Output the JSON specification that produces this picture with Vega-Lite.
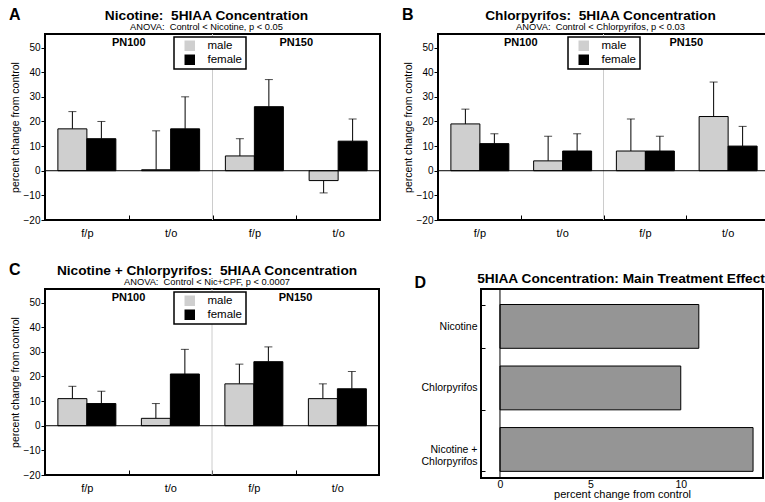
{
  "$schema": "https://vega.github.io/schema/vega-lite/v6.json",
  "padding": {"left": 9, "top": 6, "right": 0, "bottom": 0},
  "datasets": {
    "nic": [
      {"grp": "PN100 f/p", "sex": "male", "value": 17, "err": 24},
      {"grp": "PN100 f/p", "sex": "female", "value": 13, "err": 20},
      {"grp": "PN100 t/o", "sex": "male", "value": 0.4, "err": 16.2},
      {"grp": "PN100 t/o", "sex": "female", "value": 17, "err": 30},
      {"grp": "PN150 f/p", "sex": "male", "value": 6, "err": 13},
      {"grp": "PN150 f/p", "sex": "female", "value": 26, "err": 37},
      {"grp": "PN150 t/o", "sex": "male", "value": -4, "err": -9},
      {"grp": "PN150 t/o", "sex": "female", "value": 12, "err": 21}
    ],
    "cpf": [
      {"grp": "PN100 f/p", "sex": "male", "value": 19, "err": 25},
      {"grp": "PN100 f/p", "sex": "female", "value": 11, "err": 15},
      {"grp": "PN100 t/o", "sex": "male", "value": 4, "err": 14},
      {"grp": "PN100 t/o", "sex": "female", "value": 8, "err": 15},
      {"grp": "PN150 f/p", "sex": "male", "value": 8, "err": 21},
      {"grp": "PN150 f/p", "sex": "female", "value": 8, "err": 14},
      {"grp": "PN150 t/o", "sex": "male", "value": 22, "err": 36},
      {"grp": "PN150 t/o", "sex": "female", "value": 10, "err": 18}
    ],
    "both": [
      {"grp": "PN100 f/p", "sex": "male", "value": 11, "err": 16},
      {"grp": "PN100 f/p", "sex": "female", "value": 9, "err": 14},
      {"grp": "PN100 t/o", "sex": "male", "value": 3, "err": 9},
      {"grp": "PN100 t/o", "sex": "female", "value": 21, "err": 31},
      {"grp": "PN150 f/p", "sex": "male", "value": 17, "err": 25},
      {"grp": "PN150 f/p", "sex": "female", "value": 26, "err": 32},
      {"grp": "PN150 t/o", "sex": "male", "value": 11, "err": 17},
      {"grp": "PN150 t/o", "sex": "female", "value": 15, "err": 22}
    ],
    "main": [
      {"treatment": "Nicotine", "effect": 11},
      {"treatment": "Chlorpyrifos", "effect": 10},
      {"treatment": "Nicotine + Chlorpyrifos", "effect": 14}
    ]
  },
  "resolve": {"scale": {"fill": "independent"}, "legend": {"fill": "independent"}},
  "vconcat": [
    {
      "spacing": 20,
      "resolve": {"scale": {"fill": "independent"}, "legend": {"fill": "independent"}},
      "hconcat": [
        {
          "title": {"text": "A", "anchor": "start", "frame": "bounds", "fontSize": 16, "offset": 0, "dy": 15},
          "vconcat": [
            {
              "width": 335, "height": 186,
              "title": {"text": "Nicotine:\u00a0 5HIAA Concentration", "subtitle": "ANOVA:\u00a0 Control < Nicotine, p < 0.05", "frame": "group", "dx": -6},
              "data": {"name": "nic"},
              "layer": [
                {"data": {"values": [{}]}, "mark": {"type": "rule", "color": "#cccccc", "strokeWidth": 1}, "encoding": {"x": {"datum": "PN150 f/p", "bandPosition": 0, "type": "nominal", "axis": {"title": null, "labelExpr": "split(datum.label, ' ')[1]", "tickBand": "extent", "tickSize": -5, "labelPadding": 12, "labelFontSize": 11, "domain": false, "labelAngle": 0}}}},
                {"mark": {"type": "rule", "color": "black", "strokeWidth": 1}, "encoding": {
                  "x": {"field": "grp", "type": "nominal", "sort": ["PN100 f/p", "PN100 t/o", "PN150 f/p", "PN150 t/o"], "scale": {"paddingInner": 0, "paddingOuter": 0}, "axis": {"title": null, "labelExpr": "split(datum.label, ' ')[1]", "tickBand": "extent", "tickSize": -5, "labelPadding": 12, "labelFontSize": 11, "domain": false, "labelAngle": 0}},
                  "xOffset": {"field": "sex", "type": "nominal", "sort": ["male", "female"], "scale": {"paddingOuter": 0.444, "paddingInner": 0}},
                  "y": {"field": "value", "type": "quantitative", "scale": {"domain": [-20, 55.5], "nice": false, "zero": false}, "axis": {"values": [-20, -10, 0, 10, 20, 30, 40, 50], "tickCount": 8, "title": "percent change from control"}},
                  "y2": {"field": "err"}}},
                {"mark": {"type": "tick", "color": "black", "size": 8, "thickness": 1}, "encoding": {
                  "x": {"field": "grp", "type": "nominal", "axis": {"title": null, "labelExpr": "split(datum.label, ' ')[1]", "tickBand": "extent", "tickSize": -5, "labelPadding": 12, "labelFontSize": 11, "domain": false, "labelAngle": 0}},
                  "xOffset": {"field": "sex", "type": "nominal", "sort": ["male", "female"]},
                  "y": {"field": "err", "type": "quantitative", "axis": {"values": [-20, -10, 0, 10, 20, 30, 40, 50], "tickCount": 8, "title": "percent change from control"}}}},
                {"mark": {"type": "bar", "stroke": "black", "strokeWidth": 1}, "encoding": {
                  "x": {"field": "grp", "type": "nominal", "axis": {"title": null, "labelExpr": "split(datum.label, ' ')[1]", "tickBand": "extent", "tickSize": -5, "labelPadding": 12, "labelFontSize": 11, "domain": false, "labelAngle": 0}},
                  "xOffset": {"field": "sex", "type": "nominal", "sort": ["male", "female"]},
                  "y": {"field": "value", "type": "quantitative", "axis": {"values": [-20, -10, 0, 10, 20, 30, 40, 50], "tickCount": 8, "title": "percent change from control"}},
                  "fill": {"field": "sex", "type": "nominal", "scale": {"domain": ["male", "female"], "range": ["#cfcfcf", "#000000"]}, "legend": {"orient": "none", "legendX": 129, "legendY": 3, "title": null}}}},
                {"data": {"values": [{}]}, "mark": {"type": "rule", "color": "black", "strokeWidth": 1}, "encoding": {"y": {"datum": 0, "type": "quantitative", "axis": {"values": [-20, -10, 0, 10, 20, 30, 40, 50], "tickCount": 8, "title": "percent change from control"}}}},
                {"data": {"values": [{}]}, "mark": {"type": "text", "fontWeight": "bold", "fontSize": 11, "baseline": "middle"}, "encoding": {"x": {"datum": "PN100 t/o", "bandPosition": 0, "type": "nominal", "axis": {"title": null, "labelExpr": "split(datum.label, ' ')[1]", "tickBand": "extent", "tickSize": -5, "labelPadding": 12, "labelFontSize": 11, "domain": false, "labelAngle": 0}}, "y": {"datum": 52, "type": "quantitative", "axis": {"values": [-20, -10, 0, 10, 20, 30, 40, 50], "tickCount": 8, "title": "percent change from control"}}, "text": {"value": "PN100"}}},
                {"data": {"values": [{}]}, "mark": {"type": "text", "fontWeight": "bold", "fontSize": 11, "baseline": "middle"}, "encoding": {"x": {"datum": "PN150 t/o", "bandPosition": 0, "type": "nominal", "axis": {"title": null, "labelExpr": "split(datum.label, ' ')[1]", "tickBand": "extent", "tickSize": -5, "labelPadding": 12, "labelFontSize": 11, "domain": false, "labelAngle": 0}}, "y": {"datum": 52, "type": "quantitative", "axis": {"values": [-20, -10, 0, 10, 20, 30, 40, 50], "tickCount": 8, "title": "percent change from control"}}, "text": {"value": "PN150"}}}
              ]
            }
          ]
        },
        {
          "title": {"text": "B", "anchor": "start", "frame": "bounds", "fontSize": 16, "offset": 0, "dy": 15},
          "vconcat": [
            {
              "width": 331, "height": 186,
              "title": {"text": "Chlorpyrifos:\u00a0 5HIAA Concentration", "subtitle": "ANOVA:\u00a0 Control < Chlorpyrifos, p < 0.03", "frame": "group", "dx": -3},
              "data": {"name": "cpf"},
              "layer": [
                {"data": {"values": [{}]}, "mark": {"type": "rule", "color": "#cccccc", "strokeWidth": 1}, "encoding": {"x": {"datum": "PN150 f/p", "bandPosition": 0, "type": "nominal", "axis": {"title": null, "labelExpr": "split(datum.label, ' ')[1]", "tickBand": "extent", "tickSize": -5, "labelPadding": 12, "labelFontSize": 11, "domain": false, "labelAngle": 0}}}},
                {"mark": {"type": "rule", "color": "black", "strokeWidth": 1}, "encoding": {
                  "x": {"field": "grp", "type": "nominal", "sort": ["PN100 f/p", "PN100 t/o", "PN150 f/p", "PN150 t/o"], "scale": {"paddingInner": 0, "paddingOuter": 0}, "axis": {"title": null, "labelExpr": "split(datum.label, ' ')[1]", "tickBand": "extent", "tickSize": -5, "labelPadding": 12, "labelFontSize": 11, "domain": false, "labelAngle": 0}},
                  "xOffset": {"field": "sex", "type": "nominal", "sort": ["male", "female"], "scale": {"paddingOuter": 0.444, "paddingInner": 0}},
                  "y": {"field": "value", "type": "quantitative", "scale": {"domain": [-20, 55.5], "nice": false, "zero": false}, "axis": {"values": [-20, -10, 0, 10, 20, 30, 40, 50], "tickCount": 8, "title": "percent change from control"}},
                  "y2": {"field": "err"}}},
                {"mark": {"type": "tick", "color": "black", "size": 8, "thickness": 1}, "encoding": {
                  "x": {"field": "grp", "type": "nominal", "axis": {"title": null, "labelExpr": "split(datum.label, ' ')[1]", "tickBand": "extent", "tickSize": -5, "labelPadding": 12, "labelFontSize": 11, "domain": false, "labelAngle": 0}},
                  "xOffset": {"field": "sex", "type": "nominal", "sort": ["male", "female"]},
                  "y": {"field": "err", "type": "quantitative", "axis": {"values": [-20, -10, 0, 10, 20, 30, 40, 50], "tickCount": 8, "title": "percent change from control"}}}},
                {"mark": {"type": "bar", "stroke": "black", "strokeWidth": 1}, "encoding": {
                  "x": {"field": "grp", "type": "nominal", "axis": {"title": null, "labelExpr": "split(datum.label, ' ')[1]", "tickBand": "extent", "tickSize": -5, "labelPadding": 12, "labelFontSize": 11, "domain": false, "labelAngle": 0}},
                  "xOffset": {"field": "sex", "type": "nominal", "sort": ["male", "female"]},
                  "y": {"field": "value", "type": "quantitative", "axis": {"values": [-20, -10, 0, 10, 20, 30, 40, 50], "tickCount": 8, "title": "percent change from control"}},
                  "fill": {"field": "sex", "type": "nominal", "scale": {"domain": ["male", "female"], "range": ["#cfcfcf", "#000000"]}, "legend": {"orient": "none", "legendX": 130, "legendY": 3, "title": null}}}},
                {"data": {"values": [{}]}, "mark": {"type": "rule", "color": "black", "strokeWidth": 1}, "encoding": {"y": {"datum": 0, "type": "quantitative", "axis": {"values": [-20, -10, 0, 10, 20, 30, 40, 50], "tickCount": 8, "title": "percent change from control"}}}},
                {"data": {"values": [{}]}, "mark": {"type": "text", "fontWeight": "bold", "fontSize": 11, "baseline": "middle"}, "encoding": {"x": {"datum": "PN100 t/o", "bandPosition": 0, "type": "nominal", "axis": {"title": null, "labelExpr": "split(datum.label, ' ')[1]", "tickBand": "extent", "tickSize": -5, "labelPadding": 12, "labelFontSize": 11, "domain": false, "labelAngle": 0}}, "y": {"datum": 52, "type": "quantitative", "axis": {"values": [-20, -10, 0, 10, 20, 30, 40, 50], "tickCount": 8, "title": "percent change from control"}}, "text": {"value": "PN100"}}},
                {"data": {"values": [{}]}, "mark": {"type": "text", "fontWeight": "bold", "fontSize": 11, "baseline": "middle"}, "encoding": {"x": {"datum": "PN150 t/o", "bandPosition": 0, "type": "nominal", "axis": {"title": null, "labelExpr": "split(datum.label, ' ')[1]", "tickBand": "extent", "tickSize": -5, "labelPadding": 12, "labelFontSize": 11, "domain": false, "labelAngle": 0}}, "y": {"datum": 52, "type": "quantitative", "axis": {"values": [-20, -10, 0, 10, 20, 30, 40, 50], "tickCount": 8, "title": "percent change from control"}}, "text": {"value": "PN150"}}}
              ]
            }
          ]
        }
      ]
    },
    {
      "spacing": 32,
      "resolve": {"scale": {"fill": "independent"}, "legend": {"fill": "independent"}},
      "hconcat": [
        {
          "title": {"text": "C", "anchor": "start", "frame": "bounds", "fontSize": 16, "offset": 0, "dy": 15},
          "vconcat": [
            {
              "width": 334, "height": 186,
              "title": {"text": "Nicotine + Chlorpyrifos:\u00a0 5HIAA Concentration", "subtitle": "ANOVA:\u00a0 Control < Nic+CPF, p < 0.0007", "frame": "group", "dx": -5},
              "data": {"name": "both"},
              "layer": [
                {"data": {"values": [{}]}, "mark": {"type": "rule", "color": "#cccccc", "strokeWidth": 1}, "encoding": {"x": {"datum": "PN150 f/p", "bandPosition": 0, "type": "nominal", "axis": {"title": null, "labelExpr": "split(datum.label, ' ')[1]", "tickBand": "extent", "tickSize": -5, "labelPadding": 12, "labelFontSize": 11, "domain": false, "labelAngle": 0}}}},
                {"mark": {"type": "rule", "color": "black", "strokeWidth": 1}, "encoding": {
                  "x": {"field": "grp", "type": "nominal", "sort": ["PN100 f/p", "PN100 t/o", "PN150 f/p", "PN150 t/o"], "scale": {"paddingInner": 0, "paddingOuter": 0}, "axis": {"title": null, "labelExpr": "split(datum.label, ' ')[1]", "tickBand": "extent", "tickSize": -5, "labelPadding": 12, "labelFontSize": 11, "domain": false, "labelAngle": 0}},
                  "xOffset": {"field": "sex", "type": "nominal", "sort": ["male", "female"], "scale": {"paddingOuter": 0.444, "paddingInner": 0}},
                  "y": {"field": "value", "type": "quantitative", "scale": {"domain": [-20, 55.5], "nice": false, "zero": false}, "axis": {"values": [-20, -10, 0, 10, 20, 30, 40, 50], "tickCount": 8, "title": "percent change from control"}},
                  "y2": {"field": "err"}}},
                {"mark": {"type": "tick", "color": "black", "size": 8, "thickness": 1}, "encoding": {
                  "x": {"field": "grp", "type": "nominal", "axis": {"title": null, "labelExpr": "split(datum.label, ' ')[1]", "tickBand": "extent", "tickSize": -5, "labelPadding": 12, "labelFontSize": 11, "domain": false, "labelAngle": 0}},
                  "xOffset": {"field": "sex", "type": "nominal", "sort": ["male", "female"]},
                  "y": {"field": "err", "type": "quantitative", "axis": {"values": [-20, -10, 0, 10, 20, 30, 40, 50], "tickCount": 8, "title": "percent change from control"}}}},
                {"mark": {"type": "bar", "stroke": "black", "strokeWidth": 1}, "encoding": {
                  "x": {"field": "grp", "type": "nominal", "axis": {"title": null, "labelExpr": "split(datum.label, ' ')[1]", "tickBand": "extent", "tickSize": -5, "labelPadding": 12, "labelFontSize": 11, "domain": false, "labelAngle": 0}},
                  "xOffset": {"field": "sex", "type": "nominal", "sort": ["male", "female"]},
                  "y": {"field": "value", "type": "quantitative", "axis": {"values": [-20, -10, 0, 10, 20, 30, 40, 50], "tickCount": 8, "title": "percent change from control"}},
                  "fill": {"field": "sex", "type": "nominal", "scale": {"domain": ["male", "female"], "range": ["#cfcfcf", "#000000"]}, "legend": {"orient": "none", "legendX": 129, "legendY": 3, "title": null}}}},
                {"data": {"values": [{}]}, "mark": {"type": "rule", "color": "black", "strokeWidth": 1}, "encoding": {"y": {"datum": 0, "type": "quantitative", "axis": {"values": [-20, -10, 0, 10, 20, 30, 40, 50], "tickCount": 8, "title": "percent change from control"}}}},
                {"data": {"values": [{}]}, "mark": {"type": "text", "fontWeight": "bold", "fontSize": 11, "baseline": "middle"}, "encoding": {"x": {"datum": "PN100 t/o", "bandPosition": 0, "type": "nominal", "axis": {"title": null, "labelExpr": "split(datum.label, ' ')[1]", "tickBand": "extent", "tickSize": -5, "labelPadding": 12, "labelFontSize": 11, "domain": false, "labelAngle": 0}}, "y": {"datum": 52, "type": "quantitative", "axis": {"values": [-20, -10, 0, 10, 20, 30, 40, 50], "tickCount": 8, "title": "percent change from control"}}, "text": {"value": "PN100"}}},
                {"data": {"values": [{}]}, "mark": {"type": "text", "fontWeight": "bold", "fontSize": 11, "baseline": "middle"}, "encoding": {"x": {"datum": "PN150 t/o", "bandPosition": 0, "type": "nominal", "axis": {"title": null, "labelExpr": "split(datum.label, ' ')[1]", "tickBand": "extent", "tickSize": -5, "labelPadding": 12, "labelFontSize": 11, "domain": false, "labelAngle": 0}}, "y": {"datum": 52, "type": "quantitative", "axis": {"values": [-20, -10, 0, 10, 20, 30, 40, 50], "tickCount": 8, "title": "percent change from control"}}, "text": {"value": "PN150"}}}
              ]
            }
          ]
        },
        {
          "width": 282, "height": 189,
          "title": {"text": "5HIAA Concentration: Main Treatment Effect", "frame": "group", "dx": -1, "fontSize": 13.7, "offset": -12},
          "data": {"name": "main"},
          "layer": [
            {"mark": {"type": "bar", "fill": "#959595", "stroke": "black", "strokeWidth": 1}, "encoding": {
              "y": {"field": "treatment", "type": "nominal", "sort": ["Nicotine", "Chlorpyrifos", "Nicotine + Chlorpyrifos"], "scale": {"paddingInner": 0.288, "paddingOuter": 0.18, "align": 0.7}, "axis": {"title": "D", "titleAngle": 0, "titleX": -67, "titleY": -7, "titleAlign": "left", "titleBaseline": "middle", "titleFontSize": 16, "titleFontWeight": "bold", "tickBand": "extent", "tickSize": -4, "labelPadding": 8, "labelFontSize": 10.5, "domain": false, "labelExpr": "datum.label == 'Nicotine + Chlorpyrifos' ? ['Nicotine +', 'Chlorpyrifos'] : datum.label"}},
              "x": {"field": "effect", "type": "quantitative", "scale": {"domain": [-1.05, 14.55], "nice": false, "zero": false}, "axis": {"values": [0, 5, 10], "ticks": false, "labelPadding": 1, "labelFontSize": 10.5, "domain": false, "grid": false, "title": "percent change from control", "titleFontSize": 11, "titlePadding": -1}}}},
            {"data": {"values": [{}]}, "mark": {"type": "rule", "color": "black", "strokeWidth": 1}, "encoding": {"x": {"datum": 0, "type": "quantitative", "axis": {"values": [0, 5, 10], "ticks": false, "labelPadding": 1, "labelFontSize": 10.5, "domain": false, "grid": false, "title": "percent change from control", "titleFontSize": 11, "titlePadding": -1}}}}
          ]
        }
      ]
    }
  ],
  "spacing": 22,
  "config": {
    "font": "Liberation Sans",
    "view": {"stroke": "black", "strokeWidth": 2},
    "title": {"fontSize": 13.7, "fontWeight": "bold", "color": "black", "subtitleFontSize": 9.3, "subtitleColor": "black", "subtitlePadding": 1, "offset": 1},
    "axis": {"labelColor": "black", "tickColor": "black", "titleColor": "black", "grid": false, "domain": false, "labelFontSize": 10, "titleFontSize": 10.5, "titleFontWeight": "normal", "tickSize": 4, "labelPadding": 1, "titlePadding": 3, "labelOverlap": false},
    "legend": {"symbolType": "square", "symbolSize": 110, "symbolStrokeWidth": 0, "labelFontSize": 11.5, "padding": 3, "symbolOffset": 7, "labelOffset": 12, "rowPadding": 1, "strokeColor": "black", "fillColor": "white", "strokeWidth": 1.5}
  }
}
